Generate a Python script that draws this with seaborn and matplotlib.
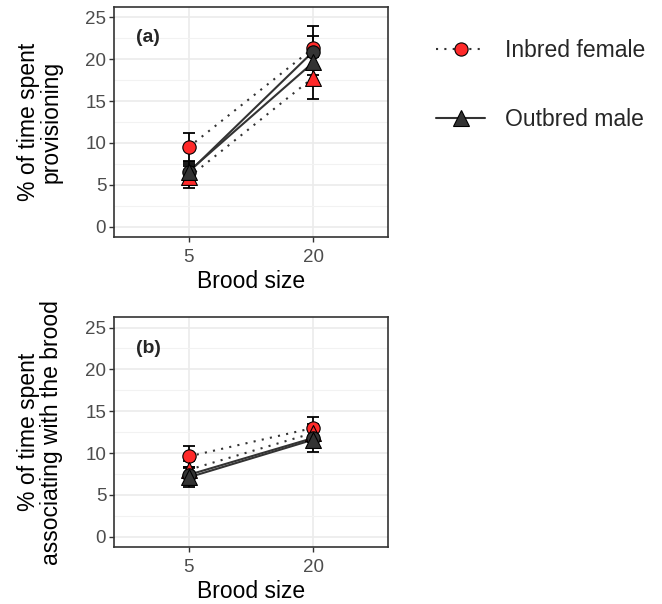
import numpy as np
import pandas as pd
import matplotlib
matplotlib.use("Agg")
import matplotlib.pyplot as plt
from matplotlib.lines import Line2D
from matplotlib.ticker import MultipleLocator
import seaborn as sns

# Data
brood = ["5", "20"]
groups = ["Inbred female", "Outbred female", "Inbred male", "Outbred male"]

prov_mean = {
    "Inbred female": [9.5, 21.3],
    "Outbred female": [5.9, 17.8],
    "Inbred male": [6.5, 20.9],
    "Outbred male": [6.6, 19.6],
}
prov_se = {
    "Inbred female": [1.7, 2.6],
    "Outbred female": [1.3, 2.5],
    "Inbred male": [1.0, 1.8],
    "Outbred male": [1.1, 1.5],
}
assoc_mean = {
    "Inbred female": [9.6, 13.0],
    "Outbred female": [8.0, 12.4],
    "Inbred male": [7.4, 11.8],
    "Outbred male": [7.1, 11.6],
}
assoc_se = {
    "Inbred female": [1.3, 1.3],
    "Outbred female": [1.0, 1.1],
    "Inbred male": [0.9, 1.0],
    "Outbred male": [1.1, 1.5],
}

sex = {"Inbred female": "female", "Outbred female": "female",
       "Inbred male": "male", "Outbred male": "male"}
inbreeding = {"Inbred female": "Inbred", "Outbred female": "Outbred",
              "Inbred male": "Inbred", "Outbred male": "Outbred"}

RED = "#FF2A2A"
DARK = "#333333"
fills = {"female": RED, "male": DARK}
DOTS = (1, 3)


def long_df(means, ses):
    rows = []
    for g in groups:
        for b, m, s in zip(brood, means[g], ses[g]):
            rows.append({"group": g, "brood": b, "mean": m, "se": s,
                         "sex": sex[g], "inb": inbreeding[g]})
    return pd.DataFrame(rows)


sns.set_theme(style="white")
plt.rcParams["font.family"] = ["Liberation Sans", "DejaVu Sans"]

fig = plt.figure(figsize=(6.62, 6.04), dpi=100)
ax_a = fig.add_axes([0.172, 0.607, 0.414, 0.382])
ax_b = fig.add_axes([0.172, 0.094, 0.414, 0.381])


def draw_panel(ax, df, label, ylabel):
    # connecting lines
    sns.lineplot(data=df, x="brood", y="mean", units="group", estimator=None,
                 style="sex", style_order=["female", "male"],
                 dashes={"female": DOTS, "male": ""},
                 color=DARK, linewidth=1.5, legend=False, ax=ax, zorder=3,
                 sort=False)
    # error bars
    for g in groups:
        d = df[df["group"] == g]
        ax.errorbar(d["brood"], d["mean"], yerr=d["se"], fmt="none",
                    ecolor="black", elinewidth=1.3, capsize=4.3, capthick=1.3,
                    zorder=4)
    # points
    for g in groups:
        d = df[df["group"] == g]
        sns.scatterplot(data=d, x="brood", y="mean",
                        marker="o" if inbreeding[g] == "Inbred" else "^",
                        s=92 if inbreeding[g] == "Inbred" else 130,
                        color=fills[sex[g]], edgecolor="black", linewidth=0.8,
                        ax=ax, zorder=5, legend=False)

    ax.set_xlim(-0.6, 1.6)
    ax.set_ylim(-1.25, 26.25)
    ax.yaxis.set_major_locator(MultipleLocator(5))
    ax.yaxis.set_minor_locator(MultipleLocator(2.5))
    ax.grid(which="major", color="#EBEBEB", linewidth=1.2, zorder=0)
    ax.grid(which="minor", axis="y", color="#F2F2F2", linewidth=0.8, zorder=0)
    ax.set_axisbelow(True)
    for sp in ax.spines.values():
        sp.set_color(DARK)
        sp.set_linewidth(1.2)
    ax.tick_params(axis="both", which="major", length=3.5, width=1, color=DARK,
                   labelsize=13.5, labelcolor="#4D4D4D", pad=2,
                   bottom=True, left=True)
    ax.tick_params(axis="x", pad=5)
    ax.tick_params(which="minor", length=0)
    ax.set_xlabel("Brood size", fontsize=16.5, color="black", labelpad=3)
    ax.set_ylabel(ylabel, fontsize=16.5, color="black", labelpad=16,
                  linespacing=1.0)
    ax.text(0.08, 0.865, label, transform=ax.transAxes, fontsize=14,
            fontweight="bold", ha="left", va="center")


draw_panel(ax_a, long_df(prov_mean, prov_se), "(a)",
           "% of time spent\nprovisioning")
draw_panel(ax_b, long_df(assoc_mean, assoc_se), "(b)",
           "% of time spent\nassociating with the brood")

handles = [
    Line2D([], [], color=DARK, linestyle=(0, DOTS), linewidth=1.5,
           marker="o", markersize=9.5, markerfacecolor=RED,
           markeredgecolor="black", markeredgewidth=0.8),
    Line2D([], [], color=DARK, linestyle="-", linewidth=1.5,
           marker="^", markersize=11, markerfacecolor=DARK,
           markeredgecolor="black", markeredgewidth=0.8),
]
fig.legend(handles, ["Inbred female", "Outbred male"],
           loc="upper left", bbox_to_anchor=(0.659, 0.935), frameon=False,
           borderpad=0, borderaxespad=0,
           fontsize=16.5, handlelength=2.14, handletextpad=0.85,
           labelspacing=1.98)

fig.savefig("out.png", dpi=100)
